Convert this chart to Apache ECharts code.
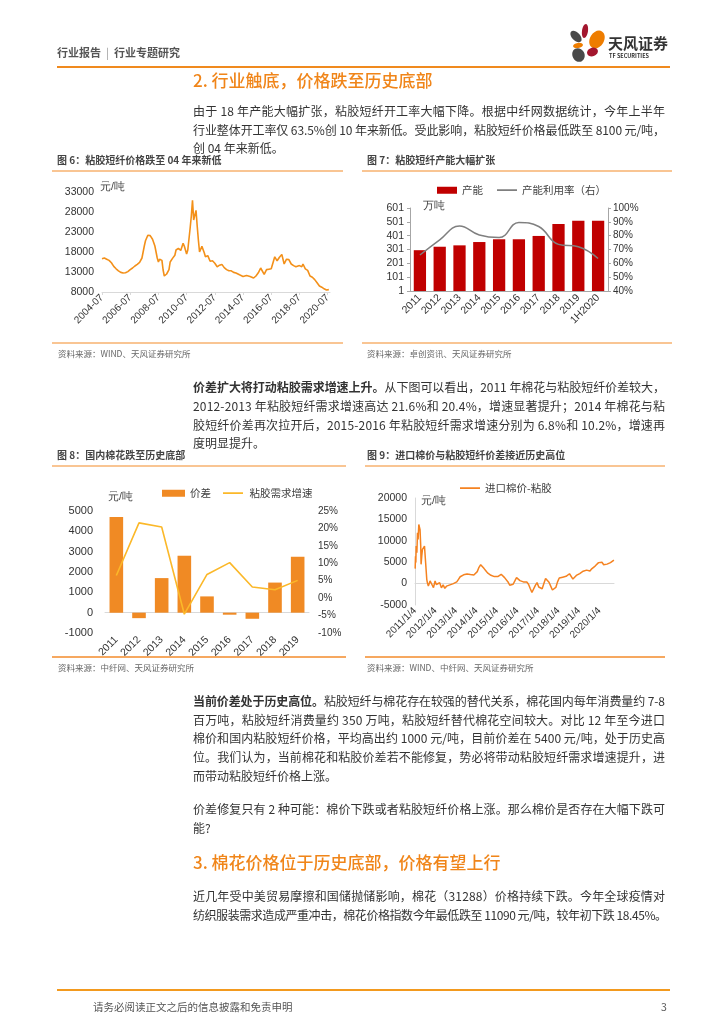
<!DOCTYPE html>
<html><head><meta charset="utf-8">
<script src="https://cdn.jsdelivr.net/npm/echarts@6.0.0/dist/echarts.min.js"></script>
<style>
html,body{margin:0;padding:0;background:#fff;}
#page{position:relative;width:724px;height:1024px;overflow:hidden;font-family:"Noto Sans CJK SC","Liberation Sans",sans-serif;color:#333;}
#chart{position:absolute;left:0;top:0;width:724px;height:1024px;z-index:1;}
.ln{position:absolute;white-space:nowrap;z-index:2;}
.ln span{display:inline-block;white-space:nowrap;}
.bar{position:absolute;z-index:2;}
</style></head>
<body><div id="page"><div id="chart"></div></div>
<script>
// ---------------- DATA ----------------
// Fig 6: viscose staple fibre price (元/吨)
const fig6Dates = ['2004-07','2004-09','2004-11','2005-01','2005-03','2005-05','2005-07','2005-09','2005-11','2006-01','2006-03','2006-05','2006-07','2006-09','2006-11','2007-01','2007-03','2007-05','2007-07','2007-08','2007-09','2007-10','2007-12','2008-02','2008-04','2008-06','2008-07','2008-08','2008-10','2008-11','2008-12','2009-01','2009-02','2009-04','2009-05','2009-07','2009-09','2009-10','2009-12','2010-02','2010-04','2010-05','2010-07','2010-08','2010-10','2010-11','2010-12','2011-01','2011-02','2011-03','2011-04','2011-05','2011-06','2011-07','2011-08','2011-09','2011-10','2011-11','2012-01','2012-03','2012-05','2012-07','2012-09','2012-11','2013-01','2013-03','2013-05','2013-07','2013-09','2013-11','2014-01','2014-04','2014-07','2014-10','2015-01','2015-04','2015-06','2015-08','2015-10','2015-11','2016-01','2016-03','2016-05','2016-07','2016-09','2016-10','2016-12','2017-02','2017-04','2017-06','2017-08','2017-10','2017-12','2018-02','2018-04','2018-07','2018-09','2018-10','2018-12','2019-02','2019-04','2019-06','2019-08','2019-10','2019-12','2020-02','2020-04','2020-06','2020-07','2020-08'];
const fig6Values = [16300,16500,16200,15900,15300,14400,13800,13300,12900,12750,12800,13100,13600,14000,14500,14900,15400,16500,19500,20800,21200,22200,22100,21200,19500,16500,15500,16200,15900,13500,12000,11700,12500,13600,15500,16400,17200,18500,18900,18400,20200,19500,17500,18500,24000,27000,30900,26000,25500,28400,24500,21000,18000,18400,19400,19000,17800,16800,17100,15700,15800,15200,14300,14700,14900,14100,13600,13300,13300,12900,12750,12300,11900,12150,11900,11500,12000,12800,14000,14500,12400,13600,13700,13800,15800,16800,15800,16700,17400,15000,16200,16100,15000,14600,14300,14600,14300,15000,13800,13400,12000,11700,11100,10300,9500,9200,8800,8500,8200,8600];
const fig6XTickYears = ['2004','2006','2008','2010','2012','2014','2016','2018','2020'];

// Fig 7: capacity (万吨) and utilisation
const fig7Years = ['2011','2012','2013','2014','2015','2016','2017','2018','2019','1H2020'];
const fig7Capacity = [296,321,331,355,375,375,399,486,508,508];
const fig7Utilization = [0.66,0.77,0.87,0.805,0.786,0.895,0.866,0.737,0.72,0.635];

// Fig 8: cotton - viscose spread (元/吨) and viscose demand growth
const fig8Years = ['2011','2012','2013','2014','2015','2016','2017','2018','2019'];
const fig8Spread = [4700,-270,1700,2800,800,-100,-300,1480,2750];
const fig8Growth = [0.065,0.216,0.204,-0.046,0.068,0.102,0.032,0.024,0.051];

// Fig 9: imported cotton price - viscose (元/吨)
const fig9Dates = ['2011-01-04','2011-01-10','2011-01-16','2011-01-22','2011-02-04','2011-02-15','2011-02-26','2011-03-08','2011-03-18','2011-03-30','2011-04-12','2011-04-18','2011-04-30','2011-05-12','2011-05-30','2011-06-18','2011-07-05','2011-07-23','2011-07-28','2011-08-08','2011-08-26','2011-09-26','2011-10-26','2011-11-26','2011-12-24',
'2012-01-15','2012-02-15','2012-03-15','2012-04-15','2012-05-15','2012-06-15','2012-07-15','2012-08-15','2012-09-15','2012-10-15','2012-11-15','2012-12-15',
'2013-01-15','2013-02-15','2013-03-15','2013-04-15','2013-05-15','2013-06-15','2013-07-15','2013-08-15','2013-09-15','2013-10-15','2013-11-15','2013-12-15',
'2014-01-15','2014-02-15','2014-03-15','2014-04-15','2014-05-15','2014-06-15','2014-07-15','2014-08-15','2014-09-15','2014-10-15','2014-11-15','2014-12-15',
'2015-01-15','2015-02-15','2015-03-15','2015-04-15','2015-05-15','2015-06-15','2015-07-15','2015-08-15','2015-09-15','2015-10-15','2015-11-15','2015-12-15',
'2016-01-15','2016-02-15','2016-03-15','2016-04-15','2016-05-15','2016-06-15','2016-07-15','2016-08-15','2016-09-15','2016-10-15','2016-11-15','2016-12-15',
'2017-01-15','2017-02-15','2017-03-15','2017-04-15','2017-05-15','2017-06-15','2017-07-15','2017-08-15','2017-09-15','2017-10-15','2017-11-15','2017-12-15',
'2018-01-15','2018-02-15','2018-03-15','2018-04-15','2018-05-15','2018-06-15','2018-07-15','2018-08-15','2018-09-15','2018-10-15','2018-11-15','2018-12-15',
'2019-01-15','2019-02-15','2019-03-15','2019-04-15','2019-05-15','2019-06-15','2019-07-15','2019-08-15','2019-09-15','2019-10-15','2019-11-15','2019-12-15',
'2020-01-15','2020-02-15','2020-03-15','2020-04-15','2020-05-15','2020-06-15','2020-07-15','2020-08-15','2020-09-15'];
const fig9Values = [3500,6400,4900,8760,7200,11860,10300,13800,14200,12600,8760,4500,6400,8000,8400,8760,8400,8600,1000,230,-540,620,-150,-930,620,
-200,-400,200,-1000,-300,-1100,-600,-800,-300,-600,0,300,
400,1000,1600,1900,2050,2300,2250,2450,2100,2300,2000,2100,
2800,3800,4400,4200,3500,3000,2500,2100,1940,1780,1630,1940,
1630,1940,2170,1940,1400,1000,390,-390,-700,-150,620,1400,
1780,700,1100,400,850,390,-150,-1160,-2090,-1700,-400,230,
-800,-1160,-1200,0,1200,1400,300,-600,-1500,-1900,-900,400,
1300,1100,1500,1250,1700,1450,2300,1850,1050,1400,1900,1780,
2350,2200,2900,2560,3150,2750,2950,3450,3350,4100,4550,4900,
5200,5000,4400,4150,4550,4750,4900,5100,5500];

// ---------------- TEXT ----------------
const textLines = [
  // [centerY, left, html, justifyWidth (0 = natural), style]
  [110,193,'由于 18 年产能大幅扩张，粘胶短纤开工率大幅下降。根据中纤网数据统计，今年上半年',472,'p'],
  [129,193,'行业整体开工率仅 63.5%创 10 年来新低。受此影响，粘胶短纤价格最低跌至 8100 元/吨，',472,'p'],
  [147,193,'创 04 年来新低。',0,'p'],
  [386,193,'<b>价差扩大将打动粘胶需求增速上升。</b>从下图可以看出，2011 年棉花与粘胶短纤价差较大，',472,'p'],
  [405,193,'2012-2013 年粘胶短纤需求增速高达 21.6%和 20.4%，增速显著提升；2014 年棉花与粘',472,'p'],
  [424,193,'胶短纤价差再次拉开后，2015-2016 年粘胶短纤需求增速分别为 6.8%和 10.2%，增速再',472,'p'],
  [442,193,'度明显提升。',0,'p'],
  [700,193,'<b>当前价差处于历史高位。</b>粘胶短纤与棉花存在较强的替代关系，棉花国内每年消费量约 7-8',472,'p'],
  [719,193,'百万吨，粘胶短纤消费量约 350 万吨，粘胶短纤替代棉花空间较大。对比 12 年至今进口',472,'p'],
  [737,193,'棉价和国内粘胶短纤价格，平均高出约 1000 元/吨，目前价差在 5400 元/吨，处于历史高',472,'p'],
  [756,193,'位。我们认为，当前棉花和粘胶价差若不能修复，势必将带动粘胶短纤需求增速提升，进',472,'p'],
  [775,193,'而带动粘胶短纤价格上涨。',0,'p'],
  [808,193,'价差修复只有 2 种可能：棉价下跌或者粘胶短纤价格上涨。那么棉价是否存在大幅下跌可',472,'p'],
  [827,193,'能?',0,'p'],
  [895,193,'近几年受中美贸易摩擦和国储抛储影响，棉花（31288）价格持续下跌。今年全球疫情对',472,'p'],
  [914,193,'纺织服装需求造成严重冲击，棉花价格指数今年最低跌至 11090 元/吨，较年初下跌 18.45%。',474,'p'],
  [80,193,'2. 行业触底，价格跌至历史底部',0,'h'],
  [862,193,'3. 棉花价格位于历史底部，价格有望上行',0,'h'],
  [52,57,'行业报告&nbsp;&nbsp;<span style="color:#999;font-weight:normal">|</span>&nbsp;&nbsp;行业专题研究',0,'top'],
  [160,57,'图 6：粘胶短纤价格跌至 04 年来新低',0,'fig'],
  [160,367,'图 7：粘胶短纤产能大幅扩张',0,'fig'],
  [455,57,'图 8：国内棉花跌至历史底部',0,'fig'],
  [455,367,'图 9：进口棉价与粘胶短纤价差接近历史高位',0,'fig'],
  [353,58,'资料来源：WIND、天风证券研究所',0,'src'],
  [353,367,'资料来源：卓创资讯、天风证券研究所',0,'src'],
  [667,58,'资料来源：中纤网、天风证券研究所',0,'src'],
  [667,367,'资料来源：WIND、中纤网、天风证券研究所',0,'src'],
  [1007,93,'请务必阅读正文之后的信息披露和免责申明',0,'foot'],
  [1007,661,'3',0,'foot'],
  [43,608,'天风证券',0,'logo'],
  [56,609,'TF SECURITIES',0,'logo2']
];
const styles = {
  p:{size:12,color:'#333',weight:'normal',lh:19},
  h:{size:17,color:'#F08519',weight:'500',lh:24},
  top:{size:11,color:'#555',weight:'bold',lh:16},
  fig:{size:10,color:'#444',weight:'bold',lh:14},
  src:{size:8.5,color:'#666',weight:'normal',lh:12},
  foot:{size:10.5,color:'#555',weight:'normal',lh:14},
  logo:{size:15,color:'#333',weight:'bold',lh:18},
  logo2:{size:5.5,color:'#333',weight:'bold',lh:8}
};
const page = document.getElementById('page');
textLines.forEach(([cy,left,html,jw,st])=>{
  const s = styles[st];
  const d = document.createElement('div');
  d.className='ln';
  d.style.left = left+'px';
  d.style.top = (cy - s.lh/2)+'px';
  d.style.lineHeight = s.lh+'px';
  d.style.fontSize = s.size+'px';
  d.style.color = s.color;
  d.style.fontWeight = s.weight;
  const sp = document.createElement('span');
  sp.innerHTML = html;
  d.appendChild(sp);
  page.appendChild(d);
  if (jw) {
    const w = sp.getBoundingClientRect().width;
    const n = sp.textContent.length;
    sp.style.letterSpacing = ((jw - w)/(n-1))+'px';
  }
});
// separators
const rules = [
  [57,66,613,2,'#F08A1E'],
  [52,170,291,1.5,'#F9C593'],[362,170,310,1.5,'#F9C593'],
  [52,342,291,1.5,'#F9C593'],[362,342,310,1.5,'#F9C593'],
  [52,465,294,1.5,'#F9C593'],[365,465,300,1.5,'#F9C593'],
  [52,656,294,1.5,'#F6A860'],[365,656,300,1.5,'#F6A860'],
  [57,989,613,2,'#F39A1E']
];
rules.forEach(([x,y,w,h,c])=>{
  const d=document.createElement('div');d.className='bar';
  d.style.cssText+=`left:${x}px;top:${y}px;width:${w}px;height:${h}px;background:${c};`;
  page.appendChild(d);
});

// ---------------- CHART ----------------
const fig6Data = fig6Dates.map((d,i)=>{const [y,m]=d.split('-').map(Number);return [(y-2004)*12+(m-7), fig6Values[i]];});
const fig9Data = fig9Dates.map((d,i)=>{const [y,m,dd]=d.split('-').map(Number);return [y+(m-1)/12+(dd-1)/365, fig9Values[i]];});

const FONT = '"Liberation Sans", Arial, "Noto Sans CJK SC", sans-serif';
const lab = {fontSize:10,color:'#333',fontFamily:FONT};
const plain = v => String(v);
const noLine = {show:false};
const gridBase = {containLabel:false, outerBoundsMode:'none'};
const LINE_ICON = 'path://M0,0h0.05v0.05h-0.05z M0,2.6h20v1.6h-20z M19.95,6.95h0.05v0.05h-0.05z';
const legendText = {fontSize:10.5,color:'#404040',fontFamily:'"Noto Sans CJK SC"'};

const chart = echarts.init(document.getElementById('chart'), null, {renderer:'canvas'});
chart.setOption({
  animation:false,
  textStyle:{fontFamily:FONT},
  grid:[
    Object.assign({left:102,top:192,width:228,height:100},gridBase),
    Object.assign({left:410,top:208,width:198,height:83},gridBase),
    Object.assign({left:105,top:511,width:204,height:122},gridBase),
    Object.assign({left:415,top:498,width:199,height:107},gridBase)
  ],
  legend:[
    {left:432,top:180,itemWidth:20,itemHeight:7,itemGap:14,textStyle:legendText,data:[{name:'产能',icon:'rect'},{name:'产能利用率（右）',icon:LINE_ICON}]},
    {left:157,top:483,itemWidth:23,itemHeight:7,itemGap:12,textStyle:legendText,data:[{name:'价差',icon:'rect'},{name:'粘胶需求增速',icon:LINE_ICON}]},
    {left:455,top:478,itemWidth:20,itemHeight:7,textStyle:legendText,data:[{name:'进口棉价-粘胶',icon:LINE_ICON}]}
  ],
  xAxis:[
    {gridIndex:0,type:'value',min:0,max:194,interval:24,
     axisLine:{show:true,lineStyle:{color:'#d9d9d9'}},axisTick:{show:true,length:3,lineStyle:{color:'#d9d9d9'}},
     splitLine:noLine,
     axisLabel:Object.assign({rotate:45,margin:4,showMaxLabel:false,formatter:v=>(v%24===0?fig6XTickYears[v/24]+'-07':'')},lab)},
    {gridIndex:1,type:'category',data:fig7Years,
     axisLine:{show:true,lineStyle:{color:'#a6a6a6'}},axisTick:{show:false},
     axisLabel:Object.assign({rotate:45,margin:5,interval:0},lab,{fontSize:10.5})},
    {gridIndex:2,type:'category',data:fig8Years,
     axisLine:{show:true,onZero:true,lineStyle:{color:'#d9d9d9'}},axisTick:{show:false},
     axisLabel:Object.assign({rotate:45,margin:5,interval:0},lab,{fontSize:10.5})},
    {gridIndex:3,type:'value',min:2011,max:2020.71,interval:1,
     axisLine:{show:true,onZero:true,lineStyle:{color:'#d9d9d9'}},axisTick:{show:false},
     splitLine:noLine,
     axisLabel:Object.assign({rotate:45,margin:4,showMaxLabel:false,formatter:v=>(Number.isInteger(v)?v+'/1/4':'')},lab)}
  ],
  yAxis:[
    {gridIndex:0,type:'value',min:8000,max:33000,interval:5000,axisLine:noLine,axisTick:noLine,splitLine:noLine,axisLabel:Object.assign({margin:8,formatter:plain},lab,{fontSize:10.5})},
    {gridIndex:1,type:'value',min:1,max:601,interval:100,
     axisLine:{show:true,lineStyle:{color:'#a6a6a6'}},axisTick:{show:true,length:3,lineStyle:{color:'#a6a6a6'}},splitLine:noLine,
     axisLabel:Object.assign({margin:6,formatter:plain},lab,{fontSize:10.5})},
    {gridIndex:1,type:'value',position:'right',min:0.4,max:1.0,interval:0.1,
     axisLine:{show:true,lineStyle:{color:'#a6a6a6'}},axisTick:{show:true,length:3,lineStyle:{color:'#a6a6a6'}},splitLine:noLine,
     axisLabel:Object.assign({margin:5,formatter:v=>Math.round(v*100)+'%'},lab)},
    {gridIndex:2,type:'value',min:-1000,max:5000,interval:1000,axisLine:noLine,axisTick:noLine,splitLine:noLine,
     axisLabel:Object.assign({margin:12,formatter:plain},lab,{fontSize:11})},
    {gridIndex:2,type:'value',position:'right',min:-0.10,max:0.25,interval:0.05,axisLine:noLine,axisTick:noLine,splitLine:noLine,
     axisLabel:Object.assign({margin:9,formatter:v=>Math.round(v*100)+'%'},lab,{fontSize:10})},
    {gridIndex:3,type:'value',min:-5000,max:20000,interval:5000,
     axisLine:{show:true,lineStyle:{color:'#d9d9d9'}},axisTick:{show:false},splitLine:noLine,
     axisLabel:Object.assign({margin:8,formatter:plain},lab,{fontSize:10.5})}
  ],
  series:[
    {name:'粘胶短纤价格',type:'line',xAxisIndex:0,yAxisIndex:0,data:fig6Data,symbol:'none',lineStyle:{color:'#F39019',width:1.6},itemStyle:{color:'#F39019'}},
    {name:'产能',type:'bar',xAxisIndex:1,yAxisIndex:1,data:fig7Capacity,barWidth:'62%',itemStyle:{color:'#C00000'}},
    {name:'产能利用率（右）',type:'line',xAxisIndex:1,yAxisIndex:2,data:fig7Utilization,smooth:0.45,symbol:'none',lineStyle:{color:'#7F7F7F',width:1.5},itemStyle:{color:'#7F7F7F'}},
    {name:'价差',type:'bar',xAxisIndex:2,yAxisIndex:3,data:fig8Spread,barWidth:'60%',itemStyle:{color:'#F08A24'}},
    {name:'粘胶需求增速',type:'line',xAxisIndex:2,yAxisIndex:4,data:fig8Growth,symbol:'none',lineStyle:{color:'#FBB829',width:1.6},itemStyle:{color:'#FBB829'}},
    {name:'进口棉价-粘胶',type:'line',xAxisIndex:3,yAxisIndex:5,data:fig9Data,symbol:'none',lineStyle:{color:'#F58220',width:1.5},itemStyle:{color:'#F58220'}}
  ],
  graphic:[
    {type:'text',left:100,top:182,style:{text:'元/吨',fontSize:10.5,fill:'#404040',font:'10.5px "Noto Sans CJK SC"'}},
    {type:'text',left:423,top:201,style:{text:'万吨',fontSize:10.5,fill:'#404040',font:'10.5px "Noto Sans CJK SC"'}},
    {type:'text',left:108,top:492,style:{text:'元/吨',fontSize:10.5,fill:'#404040',font:'10.5px "Noto Sans CJK SC"'}},
    {type:'text',left:421,top:496,style:{text:'元/吨',fontSize:10.5,fill:'#404040',font:'10.5px "Noto Sans CJK SC"'}},
    // logo petals
    {type:'ellipse',shape:{cx:0,cy:0,rx:3,ry:7},x:585,y:31,rotation:-0.15,style:{fill:'#A3162E'}},
    {type:'ellipse',shape:{cx:0,cy:0,rx:4,ry:7},x:576,y:36.5,rotation:0.75,style:{fill:'#4A4A4A'}},
    {type:'ellipse',shape:{cx:0,cy:0,rx:7,ry:9.5},x:597,y:39.5,rotation:-0.55,style:{fill:'#EE7D00'}},
    {type:'ellipse',shape:{cx:0,cy:0,rx:5,ry:2.6},x:578,y:45.5,rotation:0.15,style:{fill:'#EE7D00'}},
    {type:'ellipse',shape:{cx:0,cy:0,rx:5.5,ry:4.3},x:592.5,y:52,rotation:0.3,style:{fill:'#A3162E'}},
    {type:'ellipse',shape:{cx:0,cy:0,rx:6,ry:7},x:578.5,y:55,rotation:0.5,style:{fill:'#4A4A4A'}}
  ]
});
</script>
</body></html>
